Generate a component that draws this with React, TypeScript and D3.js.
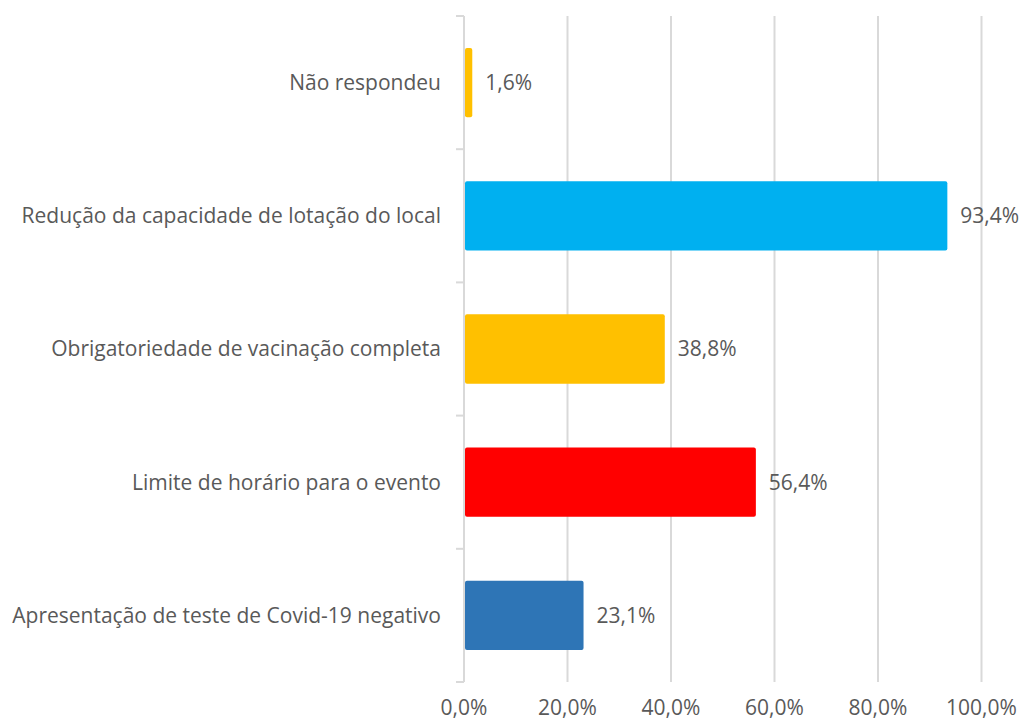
import React, { useEffect, useRef } from "react";
import * as d3 from "d3";

// categories top to bottom, as in the picture
const categories = [
  "Não respondeu",
  "Redução da capacidade de lotação do local",
  "Obrigatoriedade de vacinação completa",
  "Limite de horário para o evento",
  "Apresentação de teste de Covid-19 negativo",
];
const values = [1.6, 93.4, 38.8, 56.4, 23.1];
const colors = ["#FFC000", "#00B0F0", "#FFC000", "#FF0000", "#2E75B6"];
const xTicks = [0, 20, 40, 60, 80, 100];

const fmt = (v: number) => v.toFixed(1).replace(".", ",") + "%";

export default function App() {
  const ref = useRef<SVGSVGElement>(null);

  useEffect(() => {
    const width = 1027;
    const height = 722;
    const margin = { top: 16, right: 45, bottom: 40, left: 464 };
    const svg = d3.select(ref.current);
    svg.selectAll("*").remove();

    const x = d3.scaleLinear()
      .domain([0, 100])
      .range([margin.left, 981.5]);
    const y = d3.scaleBand()
      .domain(categories)
      .range([margin.top, height - margin.bottom])
      .paddingInner(0.48)
      .paddingOuter(0.24);

    const font = "'Open Sans', 'Noto Sans', sans-serif";
    const fontSize = 21;
    const textColor = "#595959";

    // gridlines
    svg.append("g")
      .selectAll("line")
      .data(xTicks.slice(1))
      .enter()
      .append("line")
        .attr("x1", d => x(d))
        .attr("x2", d => x(d))
        .attr("y1", margin.top)
        .attr("y2", height - margin.bottom)
        .attr("stroke", "#D9D9D9")
        .attr("stroke-width", 2);

    // category axis with outer ticks
    const bandEdges = d3.range(categories.length + 1)
      .map(i => margin.top + i * (height - margin.bottom - margin.top) / categories.length);
    svg.append("line")
      .attr("x1", x(0)).attr("x2", x(0))
      .attr("y1", margin.top).attr("y2", height - margin.bottom)
      .attr("stroke", "#D9D9D9")
      .attr("stroke-width", 2);
    svg.append("g")
      .selectAll("line")
      .data(bandEdges)
      .enter()
      .append("line")
        .attr("x1", x(0) - 8)
        .attr("x2", x(0))
        .attr("y1", d => d)
        .attr("y2", d => d)
        .attr("stroke", "#D9D9D9")
        .attr("stroke-width", 2);

    // bars
    svg.append("g")
      .selectAll("rect")
      .data(categories)
      .enter()
      .append("rect")
        .attr("x", x(0) + 1)
        .attr("y", d => y(d)!)
        .attr("width", (d, i) => x(values[i]) - x(0) - 1)
        .attr("height", y.bandwidth())
        .attr("rx", 2)
        .attr("fill", (d, i) => colors[i]);

    // value labels
    svg.append("g")
      .selectAll("text")
      .data(categories)
      .enter()
      .append("text")
        .attr("x", (d, i) => x(values[i]) + 13)
        .attr("y", d => y(d)! + y.bandwidth() / 2)
        .attr("dy", "0.35em")
        .attr("font-family", font)
        .attr("font-size", fontSize)
        .attr("fill", textColor)
        .text((d, i) => fmt(values[i]));

    // category labels
    svg.append("g")
      .selectAll("text")
      .data(categories)
      .enter()
      .append("text")
        .attr("x", 441)
        .attr("y", d => y(d)! + y.bandwidth() / 2)
        .attr("dy", "0.35em")
        .attr("text-anchor", "end")
        .attr("font-family", font)
        .attr("font-size", fontSize)
        .attr("fill", textColor)
        .text(d => d);

    // x tick labels
    svg.append("g")
      .selectAll("text")
      .data(xTicks)
      .enter()
      .append("text")
        .attr("x", d => x(d))
        .attr("y", height - 7)
        .attr("text-anchor", "middle")
        .attr("font-family", font)
        .attr("font-size", fontSize)
        .attr("fill", textColor)
        .text(d => fmt(d));
  }, []);

  return (
    <svg
      ref={ref}
      width={1027}
      height={722}
      style={{ position: "absolute", left: 0, top: 0, background: "#fff" }}
    />
  );
}
